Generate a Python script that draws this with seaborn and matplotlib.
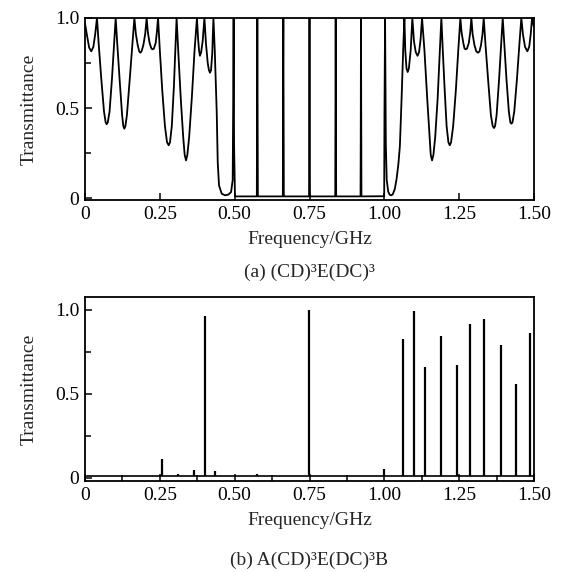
import matplotlib
matplotlib.use("Agg")
import matplotlib.pyplot as plt
from matplotlib.ticker import MultipleLocator, FixedLocator
import seaborn as sns

# ── Data: (a) (CD)^3E(DC)^3 transmittance ──────────────────────────────────
freq_a = [
    0.000, 0.007, 0.014, 0.021, 0.028, 0.034, 0.040,
    0.046, 0.0545, 0.0635, 0.069, 0.0725, 0.076, 0.082, 0.090, 0.097, 0.1025,
    0.108, 0.116, 0.124, 0.128, 0.1315, 0.135, 0.140, 0.149, 0.158, 0.165,
    0.170, 0.176, 0.181, 0.185, 0.189, 0.195, 0.201, 0.206,
    0.210, 0.216, 0.222, 0.226, 0.230, 0.236, 0.240, 0.244,
    0.250, 0.258, 0.267, 0.274, 0.2795, 0.284, 0.290, 0.297, 0.302, 0.306,
    0.312, 0.320, 0.328, 0.333, 0.3375, 0.342, 0.348, 0.357, 0.366, 0.374,
    0.378, 0.381, 0.384, 0.388, 0.393, 0.399,
    0.404, 0.410, 0.414, 0.4177, 0.421, 0.425, 0.429,
    0.4335, 0.4367, 0.440, 0.4434, 0.4477, 0.4567, 0.4677, 0.479, 0.488,
    0.4934, 0.495, 0.4965, 0.498, 0.501,
    0.574, 0.5757, 0.5775,
    0.661, 0.6618, 0.6626, 0.6642,
    0.7485, 0.750, 0.7515,
    0.836, 0.8375, 0.839,
    0.9205, 0.9212, 0.922, 0.9235,
    0.9995, 1.0005, 1.0025, 1.005, 1.008, 1.013, 1.018, 1.0224, 1.028,
    1.035, 1.041, 1.047, 1.052, 1.058, 1.0635, 1.067,
    1.070, 1.074, 1.078, 1.082, 1.088, 1.0936,
    1.099, 1.105, 1.111, 1.116, 1.121, 1.126,
    1.134, 1.143, 1.151, 1.155, 1.1594, 1.164, 1.170, 1.178, 1.185, 1.1905,
    1.195, 1.201, 1.208, 1.214, 1.2185, 1.223, 1.230, 1.239, 1.247, 1.254,
    1.258, 1.264, 1.268, 1.272, 1.276, 1.282, 1.287, 1.2907,
    1.295, 1.301, 1.307, 1.313, 1.318, 1.323, 1.328, 1.332,
    1.338, 1.347, 1.356, 1.362, 1.3665, 1.370, 1.375, 1.383, 1.390, 1.3955,
    1.401, 1.408, 1.416, 1.421, 1.4245, 1.428, 1.434, 1.443, 1.451, 1.4577,
    1.463, 1.470, 1.4777, 1.484, 1.489, 1.4935, 1.500,
]
trans_a = [
    0.97, 0.90, 0.835, 0.815, 0.84, 0.91, 1.00,
    0.85, 0.66, 0.48, 0.42, 0.41, 0.42, 0.48, 0.66, 0.85, 1.00,
    0.85, 0.65, 0.46, 0.40, 0.385, 0.40, 0.46, 0.65, 0.85, 1.00,
    0.91, 0.85, 0.815, 0.807, 0.815, 0.85, 0.91, 1.00,
    0.92, 0.86, 0.83, 0.826, 0.83, 0.86, 0.92, 1.00,
    0.82, 0.60, 0.40, 0.31, 0.293, 0.31, 0.40, 0.62, 0.83, 1.00,
    0.80, 0.55, 0.34, 0.24, 0.209, 0.24, 0.34, 0.56, 0.82, 1.00,
    0.88, 0.82, 0.79, 0.81, 0.87, 1.00,
    0.86, 0.75, 0.71, 0.696, 0.71, 0.80, 1.00,
    0.82, 0.66, 0.48, 0.20, 0.07, 0.024, 0.015, 0.019, 0.033,
    0.10, 0.50, 1.00, 0.30, 0.009,
    0.009, 1.00, 0.009,
    0.009, 0.72, 1.00, 0.009,
    0.009, 1.00, 0.009,
    0.009, 1.00, 0.009,
    0.009, 0.34, 1.00, 0.009,
    0.01, 0.49, 1.00, 0.30, 0.10, 0.035, 0.018, 0.015, 0.02,
    0.05, 0.107, 0.19, 0.29, 0.57, 0.85, 1.00,
    0.82, 0.72, 0.70, 0.72, 0.82, 1.00,
    0.87, 0.81, 0.79, 0.81, 0.88, 1.00,
    0.82, 0.56, 0.34, 0.24, 0.209, 0.24, 0.34, 0.55, 0.80, 1.00,
    0.83, 0.62, 0.40, 0.31, 0.293, 0.31, 0.40, 0.60, 0.82, 1.00,
    0.92, 0.86, 0.83, 0.826, 0.83, 0.86, 0.92, 1.00,
    0.91, 0.85, 0.815, 0.807, 0.815, 0.85, 0.91, 1.00,
    0.85, 0.65, 0.46, 0.40, 0.389, 0.40, 0.46, 0.65, 0.85, 1.00,
    0.85, 0.66, 0.48, 0.42, 0.413, 0.42, 0.48, 0.66, 0.85, 1.00,
    0.91, 0.84, 0.815, 0.84, 0.91, 1.00, 0.95,
]

# ── Data: (b) A(CD)^3E(DC)^3B resonance peaks ──────────────────────────────
peak_freq_b = [0.258, 0.310, 0.364, 0.402, 0.435, 0.574, 0.749, 1.000,
               1.064, 1.099, 1.136, 1.189, 1.243, 1.286, 1.333, 1.389,
               1.439, 1.487]
peak_trans_b = [0.11, 0.025, 0.045, 0.965, 0.04, 0.025, 1.00, 0.055,
                0.826, 0.996, 0.659, 0.847, 0.671, 0.917, 0.945, 0.794,
                0.558, 0.861]
base_freq_b = [0.0, 1.5]
base_trans_b = [0.012, 0.012]

X_TICKS = [0, 0.25, 0.50, 0.75, 1.00, 1.25, 1.50]
X_TICKLABELS = ["0", "0.25", "0.50", "0.75", "1.00", "1.25", "1.50"]
Y_TICKS = [0, 0.5, 1.0]
Y_TICKLABELS = ["0", "0.5", "1.0"]

# ── Style ──────────────────────────────────────────────────────────────────
sns.set_theme(style="ticks")
plt.rcParams["font.family"] = ["Liberation Serif", "DejaVu Serif"]
plt.rcParams.update({
    "axes.edgecolor": "black",
    "axes.linewidth": 1.3,
    "xtick.direction": "in",
    "ytick.direction": "in",
    "xtick.color": "black",
    "ytick.color": "black",
})

fig = plt.figure(figsize=(5.64, 5.72), dpi=100)
ax_a = fig.add_axes([85 / 564, 1 - 200 / 572, 449 / 564, 182 / 572])
ax_b = fig.add_axes([85 / 564, 1 - 481 / 572, 449 / 564, 184 / 572])


def style_axis(ax, ylim, xminor):
    ax.set_xlim(0, 1.5)
    ax.set_ylim(*ylim)
    ax.set_xticks(X_TICKS)
    ax.set_xticklabels(X_TICKLABELS)
    ax.set_yticks(Y_TICKS)
    ax.set_yticklabels(Y_TICKLABELS)
    ax.yaxis.set_minor_locator(FixedLocator([0.25, 0.75]))
    if xminor:
        ax.xaxis.set_minor_locator(MultipleLocator(0.125))
    ax.tick_params(which="both", direction="in", labelsize=14, width=1.1,
                   top=False, right=False)
    ax.tick_params(which="major", length=5, pad=4)
    ax.tick_params(which="minor", length=4)
    for s in ax.spines.values():
        s.set_visible(True)
        s.set_color("black")
        s.set_linewidth(1.3)
    ax.set_xlabel("Frequency/GHz", fontsize=14, labelpad=6)
    ax.set_ylabel("Transmittance", fontsize=14, labelpad=4)
    ax.yaxis.set_label_coords(-0.105, 0.5)
    ax.grid(False)


# (a)
sns.lineplot(x=freq_a, y=trans_a, ax=ax_a, color="black", linewidth=1.3,
             sort=False, estimator=None)
style_axis(ax_a, (-0.011, 1.0), xminor=False)

# (b)
sns.lineplot(x=base_freq_b, y=base_trans_b, ax=ax_b, color="black",
             linewidth=1.2, sort=False, estimator=None)
ax_b.vlines(peak_freq_b, base_trans_b[0], peak_trans_b, color="black",
            linewidth=1.6)
style_axis(ax_b, (-0.018, 1.077), xminor=True)

fig.text(0.5 * (85 + 534) / 564, 1 - 272 / 572, "(a) (CD)³E(DC)³",
         ha="center", va="center", fontsize=14)
fig.text(0.5 * (85 + 534) / 564, 1 - 560 / 572, "(b) A(CD)³E(DC)³B",
         ha="center", va="center", fontsize=14)

plt.savefig("out.png", dpi=100)
plt.close()
